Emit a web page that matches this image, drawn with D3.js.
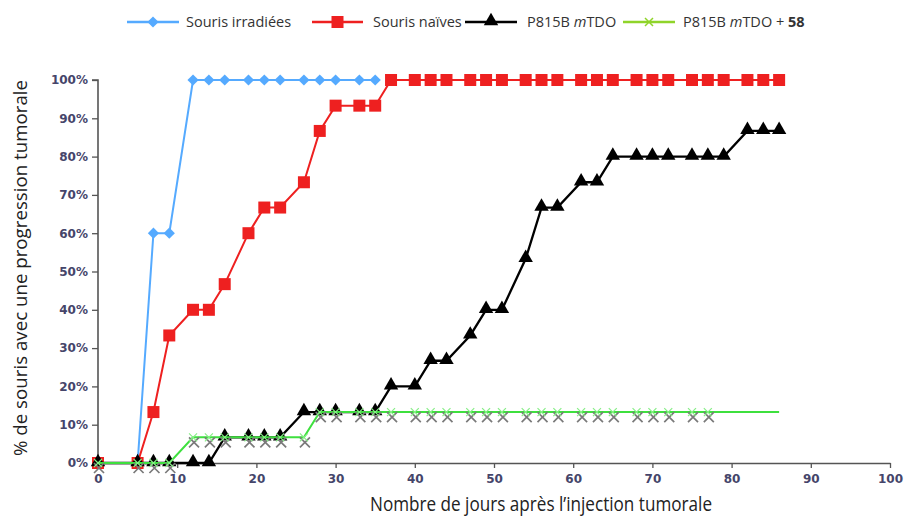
<!DOCTYPE html>
<html>
<head>
<meta charset="utf-8">
<script src="https://cdn.jsdelivr.net/npm/d3@7/dist/d3.min.js"></script>
<style>
  html, body { margin: 0; padding: 0; background: #fff; }
  svg { display: block; }
  .tick text { font-family: "DejaVu Sans", sans-serif; font-size: 12px; font-weight: bold; fill: #45456a; }
</style>
</head>
<body>
<svg id="chart" width="904" height="519"></svg>
<script>
// Days after tumour injection (observation schedule)
const days = [0, 5, 7, 9, 12, 14, 16, 19, 21, 23, 26, 28, 30, 33, 35, 37, 40, 42, 44, 47, 49,
              51, 54, 56, 58, 61, 63, 65, 68, 70, 72, 75, 77, 79, 82, 84, 86];

// % of mice with tumour progression
const irradiees = [0, 0, 60, 60, 100, 100, 100, 100, 100, 100, 100, 100, 100, 100, 100];
const naives = [0, 0, 13.3, 33.3, 40, 40, 46.7, 60, 66.7, 66.7, 73.3, 86.7, 93.3, 93.3, 93.3, 100,
                100, 100, 100, 100, 100, 100, 100, 100, 100, 100, 100, 100, 100, 100, 100, 100, 100,
                100, 100, 100, 100];
const mTDO = [0, 0, 0, 0, 0, 0, 6.7, 6.7, 6.7, 6.7, 13.3, 13.3, 13.3, 13.3, 13.3, 20, 20, 26.7, 26.7,
              33.3, 40, 40, 53.3, 66.7, 66.7, 73.3, 73.3, 80, 80, 80, 80, 80, 80, 80, 86.7, 86.7, 86.7];
const mTDO58 = [0, 0, 0, 0, 6.7, 6.7, 6.7, 6.7, 6.7, 6.7, 6.7, 13.3, 13.3, 13.3, 13.3, 13.3, 13.3,
                13.3, 13.3, 13.3, 13.3, 13.3, 13.3, 13.3, 13.3, 13.3, 13.3, 13.3, 13.3, 13.3, 13.3,
                13.3, 13.3, 13.3, 13.3, 13.3, 13.3];
const mTDO58LastMarkerDay = 77;

const xTicks = [0, 10, 20, 30, 40, 50, 60, 70, 80, 90, 100];
const yTicks = [0, 10, 20, 30, 40, 50, 60, 70, 80, 90, 100];

const svg = d3.select("#chart");
const x = d3.scaleLinear().domain([0, 100]).range([98, 890]);
const y = d3.scaleLinear().domain([0, 100]).range([463, 80]);

const pts = vals => vals.map((v, i) => ({ d: days[i], v }));

// Axes
const yAxis = svg.append("g").attr("transform", `translate(${x(0)},0)`)
  .call(d3.axisLeft(y).tickValues(yTicks).tickSize(6).tickPadding(4).tickFormat(d => d + "%"));
const xAxis = svg.append("g").attr("transform", `translate(0,${y(0)})`)
  .call(d3.axisBottom(x).tickValues(xTicks).tickSize(5).tickPadding(6).tickSizeOuter(0));
[yAxis, xAxis].forEach(g => {
  g.select(".domain").attr("stroke", "#555").attr("stroke-width", 1.6);
  g.selectAll(".tick line").attr("stroke", "#555").attr("stroke-width", 1.3);
});
yAxis.select(".domain").attr("d", `M-6,${y(100)}H0V${y(0)}`);

const line = d3.line().x(p => x(p.d)).y(p => y(p.v));

const sym = (type, size) => d3.symbol().type(type).size(size)();
const crossX = s => `M${-s},${-s}L${s},${s}M${-s},${s}L${s},${-s}`;

// Souris irradiées
const blue = "#55aaff";
svg.append("path").datum(pts(irradiees)).attr("d", line)
  .attr("fill", "none").attr("stroke", blue).attr("stroke-width", 2);
svg.append("g").selectAll("path").data(pts(irradiees)).join("path")
  .attr("transform", p => `translate(${x(p.d)},${y(p.v)})`)
  .attr("d", sym(d3.symbolDiamond2, 80)).attr("fill", blue);

// Souris naïves
const red = "#ee2020";
svg.append("path").datum(pts(naives)).attr("d", line)
  .attr("fill", "none").attr("stroke", red).attr("stroke-width", 2);
svg.append("g").selectAll("rect").data(pts(naives)).join("rect")
  .attr("x", p => x(p.d) - 6).attr("y", p => y(p.v) - 6)
  .attr("width", 12).attr("height", 12).attr("fill", red);

// P815B mTDO
svg.append("path").datum(pts(mTDO)).attr("d", line)
  .attr("fill", "none").attr("stroke", "#000").attr("stroke-width", 2.3);
svg.append("g").selectAll("path").data(pts(mTDO)).join("path")
  .attr("transform", p => `translate(${x(p.d)},${y(p.v) - 1})`)
  .attr("d", sym(d3.symbolTriangle, 90)).attr("fill", "#000");

// P815B mTDO + 58
const green = "#3ee03e";
svg.append("path").datum(pts(mTDO58)).attr("d", line)
  .attr("fill", "none").attr("stroke", green).attr("stroke-width", 2);
const m58 = pts(mTDO58).filter(p => p.d <= mTDO58LastMarkerDay);
svg.append("g").selectAll("path").data(m58).join("path")
  .attr("transform", p => `translate(${x(p.d) + 1},${y(p.v) + 5})`)
  .attr("d", crossX(5)).attr("stroke", "#7a7a7a").attr("stroke-width", 1.7).attr("fill", "none");
svg.append("g").selectAll("path").data(m58).join("path")
  .attr("transform", p => `translate(${x(p.d)},${y(p.v)})`)
  .attr("d", crossX(4)).attr("stroke", "#88ee88").attr("stroke-width", 1.2).attr("fill", "none");

// Axis titles
svg.append("text")
  .attr("x", 541).attr("y", 511).attr("text-anchor", "middle")
  .attr("font-family", "'Open Sans', sans-serif").attr("font-size", 20).attr("fill", "#222")
  .attr("textLength", 342).attr("lengthAdjust", "spacingAndGlyphs")
  .text("Nombre de jours après  l’injection tumorale");
svg.append("text")
  .attr("transform", "translate(27,268) rotate(-90)").attr("text-anchor", "middle")
  .attr("font-family", "'Open Sans', sans-serif").attr("font-size", 19).attr("fill", "#222")
  .attr("textLength", 376).attr("lengthAdjust", "spacingAndGlyphs")
  .text("% de souris avec une progression tumorale");

// Legend
const legend = [
  { x0: 127, x1: 179, color: blue, marker: "diamond", text: ["Souris irradiées"], tx: 186 },
  { x0: 312, x1: 363, color: red, marker: "square", text: ["Souris naïves"], tx: 373 },
  { x0: 465, x1: 517, color: "#000", marker: "triangle", text: ["P815B ", "m", "TDO"], tx: 527 },
  { x0: 623, x1: 675, color: "#8fd42a", marker: "cross", text: ["P815B ", "m", "TDO + ", "58"], tx: 683 }
];
const ly = 22;
const lg = svg.append("g");
legend.forEach(item => {
  lg.append("line").attr("x1", item.x0).attr("x2", item.x1).attr("y1", ly).attr("y2", ly)
    .attr("stroke", item.color).attr("stroke-width", 2.5);
  const cx = (item.x0 + item.x1) / 2;
  if (item.marker === "diamond") {
    lg.append("path").attr("transform", `translate(${cx},${ly})`).attr("d", sym(d3.symbolDiamond2, 80)).attr("fill", item.color);
  } else if (item.marker === "square") {
    lg.append("rect").attr("x", cx - 6).attr("y", ly - 6).attr("width", 12).attr("height", 12).attr("fill", item.color);
  } else if (item.marker === "triangle") {
    lg.append("path").attr("transform", `translate(${cx},${ly - 1})`).attr("d", sym(d3.symbolTriangle, 90)).attr("fill", item.color);
  } else {
    lg.append("path").attr("transform", `translate(${cx},${ly})`).attr("d", crossX(4)).attr("stroke", item.color).attr("stroke-width", 1.5);
  }
  const t = lg.append("text").attr("x", item.tx).attr("y", ly + 5)
    .attr("font-family", "'Open Sans', sans-serif").attr("font-size", 14.5).attr("fill", "#333");
  item.text.forEach((s, i) => {
    const ts = t.append("tspan").text(s);
    if (s === "m") ts.attr("font-style", "italic");
    if (s === "58") ts.attr("font-weight", "bold");
  });
});
</script>
</body>
</html>
